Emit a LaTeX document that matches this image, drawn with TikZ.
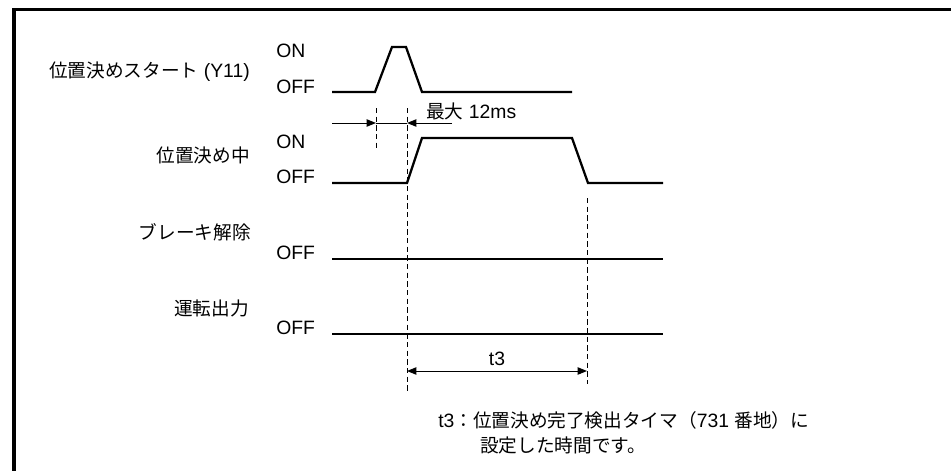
\documentclass[tikz,border=0pt]{standalone}
\usepackage{fontspec}
\setmainfont{Liberation Sans}
\newfontfamily\jp{Noto Sans CJK JP}[Scale=0.965]
\usetikzlibrary{
  arrows.meta,
  positioning,
}

\begin{document}
\begin{tikzpicture}[
  x=0.75pt, y=-0.75pt,
  >={Triangle[length=7pt,width=5.5pt]},
  sig/.style={line width=1.7pt, line join=miter},
  dim/.style={line width=0.75pt},
  guide/.style={line width=0.75pt, dash pattern=on 4pt off 2.5pt},
  lbl/.style={font=\fontsize{14.5}{17}\selectfont, inner sep=0pt},
  sname/.style={lbl, anchor=east},
  lvl/.style={lbl, anchor=west},
]
  \useasboundingbox (0,0) rectangle (951,471);
  \clip (0,0) rectangle (951,471);
  % Frame
  \draw[line width=2.4pt] (14,9.5) rectangle (990,500);

  % Signal names
  \node[sname] (nStart) at (250,72) {{\jp 位置決めスタート} (Y11)};
  \node[sname] (nBusy)  at (250,155) {\jp 位置決め中};
  \node[sname] (nBrake) at (251,232) {\jp ブレーキ解除};
  \node[sname] (nRun)   at (249,308) {\jp 運転出力};

  % Levels
  \node[lvl] (onStart)  at (276,51)  {ON};
  \node[lvl] (offStart) at (276,87)  {OFF};
  \node[lvl] (onBusy)   at (276,142) {ON};
  \node[lvl] (offBusy)  at (276,177) {OFF};
  \node[lvl] (offBrake) at (276,253) {OFF};
  \node[lvl] (offRun)   at (276,328) {OFF};

  % Waveforms
  \draw[sig] (332,92) -- (375,92) -- (392,47) -- (406,47) -- (422,92) -- (572,92);
  \draw[sig] (332,183) -- (407,183) -- (422,138) -- (572,138) -- (588,183) -- (663,183);
  \draw[sig] (332,259) -- (663,259);
  \draw[sig] (332,334) -- (663,334);

  % Guide lines
  \coordinate (g1t) at (376,108);
  \coordinate (g1b) at (376,151);
  \coordinate (g2t) at (407,108);
  \coordinate (g2b) at (407,393);
  \coordinate (g3t) at (587,198);
  \coordinate (g3b) at (587,384);
  \draw[guide] (g1t) -- (g1b);
  \draw[guide] (g2t) -- (g2b);
  \draw[guide] (g3t) -- (g3b);

  % Max delay
  \coordinate (aL) at (332,123);
  \coordinate (a1) at (376,123);
  \coordinate (a2) at (407,123);
  \coordinate (aR) at (452,123);
  \draw[dim,->] (aL) -- (a1);
  \draw[dim] (a1) -- (a2);
  \draw[dim,->] (aR) -- (a2);
  \node[lbl, anchor=west] (maxT) at (426,111) {{\jp 最大} 12ms};

  % t3
  \coordinate (t3a) at (407,371);
  \coordinate (t3b) at (587,371);
  \draw[dim,<->] (t3a) -- (t3b);
  \node[lbl] (t3) at (497,359) {t3};

  % Note
  \node[lvl] (note1) at (438,420) {t3{\jp：位置決め完了検出タイマ（}731 {\jp 番地）に}};
  \node[lvl] (note2) at (480,445) {\jp 設定した時間です。};
\end{tikzpicture}
\end{document}
